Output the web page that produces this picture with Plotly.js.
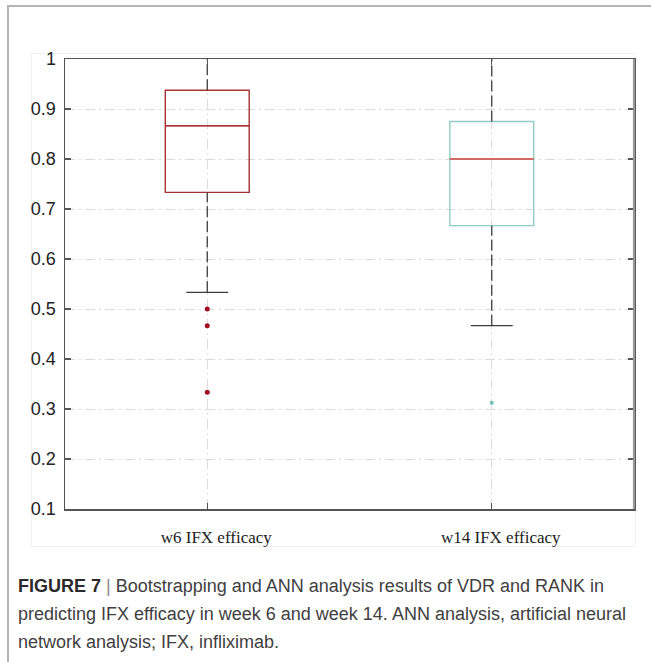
<!DOCTYPE html>
<html>
<head>
<meta charset="utf-8">
<script src="https://cdn.plot.ly/plotly-3.0.1.min.js"></script>
<style>
  html, body { margin: 0; padding: 0; background: #fff; }
  #page { position: relative; width: 651px; height: 662px; overflow: hidden; background: #fff; }
  #frame { position: absolute; left: 7px; top: 5px; width: 700px; height: 700px;
           border-top: 2px solid #b4b4b4; border-left: 2px solid #b4b4b4; }
  #figbox { position: absolute; left: 31px; top: 53px; width: 603px; height: 492px;
            border: 1px solid #f1f1f1; }
  #chart { position: absolute; left: 0; top: 0; width: 651px; height: 662px; }
  #caption { position: absolute; left: 18px; top: 572px; width: 640px;
             font-family: "Liberation Sans", Arial, sans-serif; font-size: 18px;
             line-height: 28px; color: #404040; white-space: nowrap; }
  #caption b { color: #2a2a2a; }
  #caption .sep { color: #888; }
</style>
</head>
<body>
<div id="page">
  <div id="frame"></div>
  <div id="figbox"></div>
  <div id="chart"></div>
  <div id="caption"><b>FIGURE 7</b> <span class="sep">|</span> Bootstrapping and ANN analysis results of VDR and RANK in<br>predicting IFX efficacy in week 6 and week 14. ANN analysis, artificial neural<br>network analysis; IFX, infliximab.</div>
</div>
<script>
// ---- data ----
var categories = ['w6 IFX efficacy', 'w14 IFX efficacy'];
var positions = [0, 1];
var q1Values = [0.7333, 0.6667];
var medianValues = [0.8667, 0.8];
var q3Values = [0.9375, 0.875];
var lowerWhisker = [0.5333, 0.4667];
var upperWhisker = [1.0, 1.0];
var outlierValues = [[0.5, 0.4667, 0.3333], [0.3125]];
var yTickVals = [0.1, 0.2, 0.3, 0.4, 0.5, 0.6, 0.7, 0.8, 0.9, 1];
var yTickText = ['0.1', '0.2', '0.3', '0.4', '0.5', '0.6', '0.7', '0.8', '0.9', '1'];

// ---- styles ----
var boxColors = ['#a83232', '#92ccc7'];
var medianColors = ['#a83232', '#e0463f'];
var outlierColors = ['#9e1020', '#6fbcb5'];
var whiskerColor = '#3c3c3c';
var boxWidth = 0.295;
var capWidth = boxWidth / 2;

var traces = [];

// dashed whiskers
var wx = [], wy = [];
for (var i = 0; i < categories.length; i++) {
  wx.push(positions[i], positions[i], null, positions[i], positions[i], null);
  wy.push(lowerWhisker[i], q1Values[i], null, q3Values[i], upperWhisker[i], null);
}
traces.push({
  type: 'scatter', mode: 'lines', x: wx, y: wy,
  line: { color: whiskerColor, width: 1.3, dash: '11px,4px' },
  hoverinfo: 'skip', showlegend: false
});

for (var i = 0; i < categories.length; i++) {
  // lower whisker cap (degenerate box)
  traces.push({
    type: 'box', x: [positions[i]],
    q1: [lowerWhisker[i]], median: [lowerWhisker[i]], q3: [lowerWhisker[i]],
    lowerfence: [lowerWhisker[i]], upperfence: [lowerWhisker[i]],
    width: capWidth, whiskerwidth: 0, boxpoints: false,
    line: { color: whiskerColor, width: 1.3 }, fillcolor: 'rgba(0,0,0,0)',
    hoverinfo: 'skip', showlegend: false
  });
  // main box
  traces.push({
    type: 'box', x: [positions[i]],
    q1: [q1Values[i]], median: [medianValues[i]], q3: [q3Values[i]],
    lowerfence: [q1Values[i]], upperfence: [q3Values[i]],
    width: boxWidth, whiskerwidth: 0, boxpoints: false,
    line: { color: boxColors[i], width: 1.4 }, fillcolor: 'rgba(0,0,0,0)',
    showlegend: false
  });
  // median line in its own colour
  traces.push({
    type: 'box', x: [positions[i]],
    q1: [medianValues[i]], median: [medianValues[i]], q3: [medianValues[i]],
    lowerfence: [medianValues[i]], upperfence: [medianValues[i]],
    width: boxWidth, whiskerwidth: 0, boxpoints: false,
    line: { color: medianColors[i], width: 1.5 }, fillcolor: 'rgba(0,0,0,0)',
    hoverinfo: 'skip', showlegend: false
  });
  // outliers
  var ox = outlierValues[i].map(function () { return positions[i]; });
  traces.push({
    type: 'scatter', mode: 'markers', x: ox, y: outlierValues[i],
    marker: { color: outlierColors[i], size: i === 0 ? 5 : 4 },
    showlegend: false
  });
}

var layout = {
  width: 651, height: 662,
  margin: { l: 65, r: 17, t: 59, b: 153 },
  paper_bgcolor: 'rgba(0,0,0,0)',
  plot_bgcolor: '#ffffff',
  showlegend: false,
  boxmode: 'overlay',
  xaxis: {
    range: [-0.5, 1.5],
    tickmode: 'array', tickvals: positions, ticktext: categories,
    showgrid: true, gridcolor: '#dcdcdc', gridwidth: 1, griddash: '10px,4px,2px,4px',
    zeroline: false,
    showline: true, linecolor: '#555555', linewidth: 1.5, mirror: 'ticks',
    ticks: 'inside', ticklen: 6, tickcolor: '#555555', tickwidth: 1.2,
    tickfont: { family: '"Liberation Serif", "Times New Roman", serif', size: 17, color: '#222222' },
    ticklabelstandoff: 12, ticklabelshift: 9
  },
  yaxis: {
    range: [0.1, 1],
    tickmode: 'array', tickvals: yTickVals, ticktext: yTickText,
    showgrid: true, gridcolor: '#dcdcdc', gridwidth: 1, griddash: '10px,4px,2px,4px',
    zeroline: false,
    showline: true, linecolor: '#555555', linewidth: 1.5, mirror: 'ticks',
    ticks: 'inside', ticklen: 6, tickcolor: '#555555', tickwidth: 1.2,
    tickfont: { family: '"Liberation Sans", Arial, sans-serif', size: 18, color: '#222222' },
    ticklabelstandoff: 4
  },
  shapes: [{
    type: 'line', xref: 'paper', yref: 'paper', x0: 1, x1: 1, y0: 0, y1: 1,
    line: { color: '#9a9a9a', width: 2.2 }, layer: 'above'
  }]
};

Plotly.newPlot('chart', traces, layout, { displayModeBar: false, staticPlot: true });
</script>
</body>
</html>
